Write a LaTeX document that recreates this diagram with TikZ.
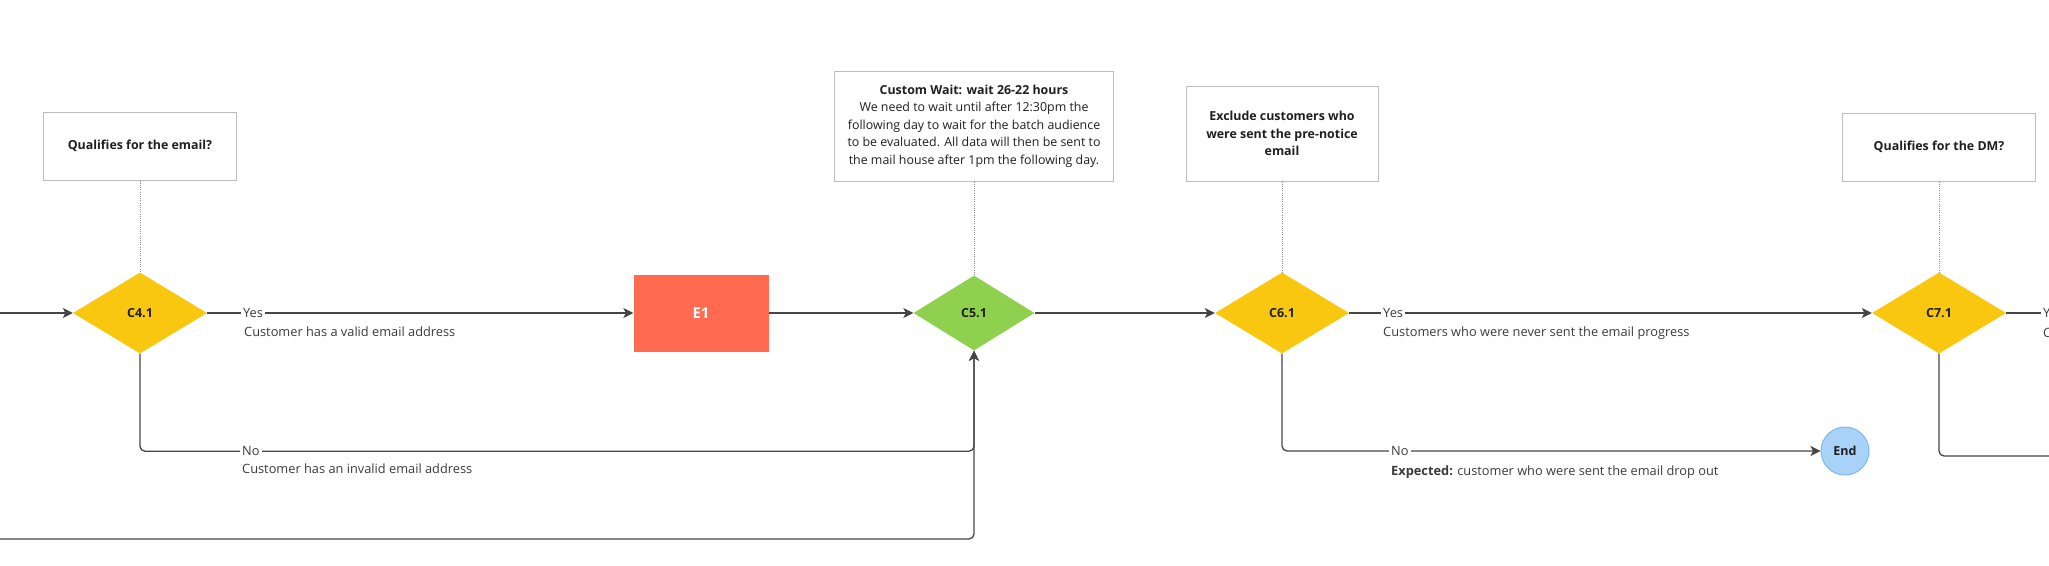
\documentclass[tikz,border=0pt]{standalone}
\usepackage{fontspec}
\setmainfont{Open Sans}
\usepackage{tikz}
\usetikzlibrary{shapes.geometric}
\usetikzlibrary{arrows.meta}
\definecolor{decyellow}{HTML}{FAC710}
\definecolor{decgreen}{HTML}{8FD14F}
\definecolor{emailred}{HTML}{FF6A50}
\definecolor{endblue}{HTML}{A9D2F8}
\definecolor{endedge}{HTML}{7FB8EE}
\definecolor{wiregray}{HTML}{454545}
\definecolor{notegray}{HTML}{BDBDBD}
\definecolor{dotgray}{HTML}{8A8A8A}
\definecolor{inkgray}{HTML}{1F1F1F}
\definecolor{labelgray}{HTML}{3A3A3A}

\begin{document}
\begin{tikzpicture}[x=1pt, y=-1pt,
		decision/.style={shape=diamond, fill=#1, inner sep=0pt, minimum width=134pt, minimum height=81pt, text=inkgray, font=\fontsize{12.5}{14}\selectfont\bfseries},
		note/.style={shape=rectangle, draw=notegray, line width=1pt, fill=white, align=center, text=inkgray, font=\fontsize{12.4}{17.6}\selectfont\bfseries},
		wire/.style={draw=wiregray, line width=1.3pt, rounded corners=5pt},
		arrowtip/.style={-{Stealth[length=10pt, width=10pt, inset=2.5pt]}},
		link/.style={draw=dotgray, line width=1pt, dash pattern=on 1pt off 1.2pt},
		tag/.style={fill=white, inner sep=2pt, anchor=west, text=labelgray, font=\fontsize{12.8}{15}\selectfont},
		sublabel/.style={inner sep=0pt, anchor=west, text=labelgray, font=\fontsize{12.8}{15}\selectfont}]
		\useasboundingbox (0, 0) rectangle (2049, 565);
		\clip (0, 0) rectangle (2049, 565);
		% Nodes:
		\node[note, minimum width=193pt, minimum height=68pt](N1) at (140, 146){Qualifies for the email?};
		\node[decision=decyellow](C41) at (140, 313){C4.1};
		\node[shape=rectangle, fill=emailred, minimum width=135pt, minimum height=77pt, text=white, font=\fontsize{15}{18}\selectfont\bfseries](E1) at (701, 313){E1};
		\node[note, minimum width=279pt, minimum height=110pt](N2) at (974, 126){Custom Wait: wait 26-22 hours\\ \mdseries We need to wait until after 12:30pm the\\ \mdseries following day to wait for the batch audience\\ \mdseries to be evaluated. All data will then be sent to\\ \mdseries the mail house after 1pm the following day.};
		\node[decision=decgreen, minimum width=121pt, minimum height=75pt](C51) at (974, 313){C5.1};
		\node[note, minimum width=192pt, minimum height=95pt](N3) at (1282, 133.5){Exclude customers who\\ were sent the pre-notice\\ email};
		\node[decision=decyellow](C61) at (1282, 313){C6.1};
		\node[shape=circle, draw=endedge, line width=1pt, fill=endblue, minimum size=48pt, inner sep=0pt, text=inkgray, font=\fontsize{12.5}{14}\selectfont\bfseries](End) at (1845, 451){End};
		\node[note, minimum width=193pt, minimum height=68pt](N4) at (1939, 147){Qualifies for the DM?};
		\node[decision=decyellow](C71) at (1939, 313){C7.1};
		\coordinate (In1) at (0, 313);
		\coordinate (In2) at (0, 539);
		\coordinate (Out1) at (2070, 313);
		\coordinate (Out2) at (2070, 456);
		% Connectors:
		\draw[link] (N1) -- (C41);
		\draw[link] (N2) -- (C51);
		\draw[link] (N3) -- (C61);
		\draw[link] (N4) -- (C71);
		\draw[wire, arrowtip] (In1) -- (C41);
		\draw[wire, arrowtip] (C41) -- (E1);
		\draw[wire, arrowtip] (E1) -- (C51);
		\draw[wire, arrowtip] (C41.south) -- ++(0, 97.5) -| (C51.south);
		\draw[wire, arrowtip] (In2) -| (C51.south);
		\draw[wire, arrowtip] (C51) -- (C61);
		\draw[wire, arrowtip] (C61) -- (C71);
		\draw[wire, arrowtip] (C61.south) |- (End);
		\draw[wire] (C71) -- (Out1);
		\draw[wire] (C71.south) |- (Out2);
		% Labels:
		\node[tag](Y1) at (241, 313){Yes};
		\node[sublabel](S1) at (244, 332){Customer has a valid email address};
		\node[tag](No1) at (240, 451){No};
		\node[sublabel](S2) at (242, 469){Customer has an invalid email address};
		\node[tag](Y2) at (1381, 313){Yes};
		\node[sublabel](S3) at (1383, 333){Customers who were never sent the email progress};
		\node[tag](No2) at (1389, 451){No};
		\node[sublabel](S4) at (1391, 472){\textbf{Expected:} customer who were sent the email drop out};
		\node[tag](Y3) at (2041, 313){Yes};
		\node[sublabel](S5) at (2043, 333){C};
\end{tikzpicture}
\end{document}
